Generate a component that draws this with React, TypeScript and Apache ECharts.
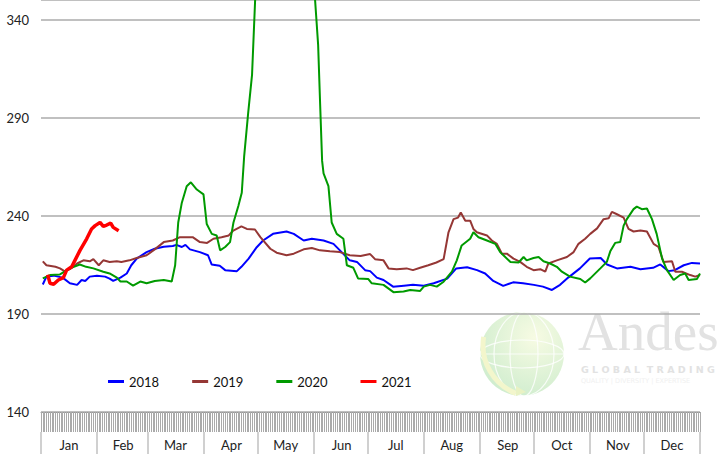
import React, { useEffect, useRef } from "react";
import * as echarts from "echarts";

const monthNames = ["Jan", "Feb", "Mar", "Apr", "May", "Jun", "Jul", "Aug", "Sep", "Oct", "Nov", "Dec"];
const monthStarts = [0, 31, 59, 90, 120, 151, 181, 212, 243, 273, 304, 334];
const monthMids = [15, 45, 74, 105, 135, 166, 196, 227, 258, 288, 319, 349];
const dayCount = 365;
const yTicks = [140, 190, 240, 290, 340];

const s2018: number[][] = [[1,205],[3,209],[7,209.5],[12,208.5],[16,205.6],[20,204.8],[22.5,207.3],[24.5,206.8],[27,209],[31,209.5],[35.5,209],[38,208],[40,206.8],[44,208.5],[47.5,210.6],[50,214.8],[53,218.2],[58.5,221.5],[63,223.2],[68,224.2],[73,224.6],[75,225.2],[78,224.1],[80,225.2],[82.5,222.9],[88,221.5],[92.5,219.9],[94.5,215.2],[99,214.5],[102,212.3],[108.5,211.8],[111,214],[115,218.2],[119.5,224],[123,227.4],[128.5,230.8],[136,232],[140,230.8],[145.5,227.4],[150,228.3],[156.5,227.4],[162,225.7],[166.5,221.5],[171,217.3],[175,216.5],[179.5,212.3],[182.3,211.8],[186,208.5],[189.7,207.3],[195,203.9],[201,204.4],[206,204.8],[212,204.4],[217.5,205.6],[225,208],[230,213.2],[236,213.8],[241.5,212.3],[246,210.6],[250.5,206.8],[256,204.3],[261.5,206.1],[267,205.6],[273,204.8],[278,203.9],[283,202.2],[287.5,204.8],[292,208.5],[298.5,213.2],[304,218.2],[310,218.5],[313.5,215.2],[319,213.2],[326.5,214],[332,212.8],[339,213.5],[343,215.2],[347.5,211.8],[351,212.3],[356,214.8],[360.5,216],[365,215.7]];

const s2019: number[][] = [[1,216.8],[3,214.8],[8,214],[10.5,213.2],[13,211.8],[16,212.8],[20,215.7],[23.5,217.3],[27,216.8],[29,217.9],[32,214.8],[34.5,217.3],[38,216.5],[42,216.8],[44.5,216.5],[49,217.3],[53,218.5],[58.5,219.9],[63,222.9],[68,226.6],[73,227.4],[77,229.1],[84,229.1],[88,226.6],[92,226.2],[95.5,228.3],[100,229.1],[104,230],[106.5,232.5],[111,234.6],[114,233.3],[118.5,233],[121.5,229.1],[127,223.2],[130.5,221.2],[136,219.9],[140,220.7],[145.5,222.9],[150,223.6],[154.5,222.4],[160,221.9],[165.5,221.5],[171,219.9],[177,219.5],[182.3,220.5],[185,217.9],[189.7,217.3],[192.5,213.2],[197,212.8],[202.5,213.2],[206,212.3],[210,213.5],[214.5,214.8],[219,216.2],[223,217.9],[225.7,231.6],[228.5,238.3],[231,239.1],[232.5,241.7],[235,237.5],[237.7,237.5],[239.5,233.3],[241.4,231.6],[247,230],[249.7,227.4],[252.5,225.7],[255.3,220.7],[258,220.7],[261.7,218.2],[265.4,216.5],[269,214],[272.8,212.3],[276.5,212.8],[279.3,211.5],[281,215.7],[285.7,217.3],[291.3,219],[295,221.5],[297.7,225.7],[301.4,228.3],[304.2,230.8],[308,233.6],[311.6,238.3],[314.4,238.7],[316.2,242],[319,240.8],[322.7,239.1],[325.4,233.3],[328.2,232],[332,232.5],[335.6,232],[339.3,225.7],[342,224.1],[344.8,216.5],[349.5,216.8],[351.3,211.5],[355,211.5],[359.6,209.8],[362.4,209],[365,209.8]];

const s2020: number[][] = [[1,208.1],[5,209.8],[10.5,210.1],[16,213.2],[21.5,215.2],[25,214],[29,213.2],[34.5,211.5],[38,210.6],[42,208.5],[44,206.5],[47.5,206.5],[51,204.4],[55,206.5],[58.5,205.6],[63,206.8],[68,207.3],[72.4,206.5],[74.3,214.8],[76,236.6],[78,246.7],[80.7,255.1],[83,257.1],[86.3,253.4],[90,250.9],[91.8,235.8],[94.6,230.8],[97.3,230],[99.2,222.4],[102,224.1],[104.7,226.6],[106.6,236.6],[109.3,245],[111.2,251.7],[112.5,270],[114.7,292],[116.9,312],[118.6,350],[120.5,372],[125,380],[132,385],[140,382],[147,378],[150.7,365],[152.4,342],[153.5,327],[154.6,297],[155.7,268],[156.5,261.6],[159.2,255.1],[161,236.6],[163.8,230.8],[167.5,228.3],[169.4,214.8],[173,213.5],[175.6,208.1],[181.2,207.8],[183.2,205.6],[189.7,204.8],[195.2,201.1],[200.8,201.4],[204.5,202.2],[210,201.7],[212,203.9],[215.5,204.8],[219.2,203.9],[223,206.4],[227.6,211.5],[230.3,217.3],[233,224.9],[237.7,228.3],[239.5,231.6],[242.3,229.1],[247,227.4],[251.6,225.7],[254.3,221.5],[260,216.5],[264.5,216.2],[267.3,219],[269,217.3],[272.8,218.5],[275.6,219],[278.3,216.8],[282,215.7],[285.7,214],[288.5,211.5],[293,209],[298.7,207.8],[301.4,206],[304.2,208.1],[309.8,213.2],[313.4,216.5],[315.3,221.9],[318,226.2],[320.8,226.6],[322.7,235],[324.5,238.3],[328.2,243.4],[330,244.7],[332.8,243.4],[335.6,243.7],[338.4,238.3],[341,230.8],[344,218.2],[346.7,212.3],[350.4,207.3],[354,209.8],[356.8,210.6],[358.7,207.3],[363.3,207.8],[365,210.6]];

const s2021: number[][] = [[3.7,210],[5,205.6],[7,205.1],[9.6,207.3],[12.4,208.5],[14.2,212.3],[17,214],[18.8,217.3],[21.6,222.4],[25.3,228.3],[28,233.3],[30,235],[32.7,236.6],[34.5,234.6],[36.4,235.3],[38.6,236.3],[40,234.1],[43,232.4]];

const seriesNames = ["2018", "2019", "2020", "2021"];
const seriesColors = ["#0000ff", "#953735", "#009a00", "#ff0000"];
const seriesWidths = [2, 2, 2, 3.5];
const seriesData = [s2018, s2019, s2020, s2021];

const days = Array.from({ length: dayCount }, (_, i) => String(i));

export default function App() {
  const ref = useRef<HTMLDivElement>(null);
  useEffect(() => {
    if (!ref.current) return;
    const chart = echarts.init(ref.current, undefined, { renderer: "svg" });
    const font = "Lato, 'Open Sans', sans-serif";
    chart.setOption({
      animation: false,
      backgroundColor: "#ffffff",
      grid: { left: 41, right: 18, top: -5, bottom: 42, containLabel: false },
      legend: {
        data: seriesNames,
        left: 108,
        top: 375,
        itemWidth: 16,
        itemHeight: 3,
        itemGap: 33,
        icon: "rect",
        padding: 0,
        textStyle: { fontSize: 13, color: "#111", fontFamily: font },
      },
      xAxis: [
        { type: "value", min: 0, max: dayCount, show: false },
        {
          type: "category",
          data: days,
          position: "bottom",
          boundaryGap: true,
          axisLine: { show: true, lineStyle: { color: "#999", width: 1 } },
          axisTick: { show: true, interval: 0, length: 20, lineStyle: { color: "#aaa", width: 1 } },
          axisLabel: { show: false },
          splitLine: { show: false },
        },
        {
          type: "category",
          data: days,
          position: "bottom",
          offset: 20,
          boundaryGap: true,
          axisLine: { show: false },
          axisTick: {
            show: true,
            length: 22,
            interval: (i: number) => monthStarts.includes(i),
            lineStyle: { color: "#c0c0c0", width: 1.5 },
          },
          axisLabel: {
            show: true,
            interval: (i: number) => monthMids.includes(i),
            formatter: (_v: string, i: number) => monthNames[monthMids.indexOf(i)] ?? "",
            fontSize: 13,
            color: "#222",
            margin: 6,
            fontFamily: font,
          },
          splitLine: { show: false },
        },
      ],
      yAxis: {
        type: "value",
        min: yTicks[0],
        max: 350,
        interval: 50,
        axisLine: { show: false },
        axisTick: { show: false },
        axisLabel: {
          fontSize: 13,
          color: "#222",
          margin: 12,
          fontFamily: font,
          formatter: (v: number) => (yTicks.includes(v) ? String(v) : ""),
        },
        splitLine: { show: true, lineStyle: { color: "#ababab", width: 1.5 } },
      },
      graphic: [
        {
          type: "group",
          silent: true,
          z: 1,
          children: [
            {
              type: "circle",
              shape: { cx: 522, cy: 354, r: 42 },
              style: {
                fill: new echarts.graphic.RadialGradient(0.65, 0.3, 0.8, [
                  { offset: 0, color: "#f7fbe3" },
                  { offset: 1, color: "#cdeccd" },
                ]),
              },
            },
            { type: "ellipse", shape: { cx: 524, cy: 354, rx: 14, ry: 42 }, style: { fill: "none", stroke: "#ffffff", lineWidth: 1.2, opacity: 0.8 } },
            { type: "ellipse", shape: { cx: 524, cy: 354, rx: 30, ry: 42 }, style: { fill: "none", stroke: "#ffffff", lineWidth: 1.2, opacity: 0.8 } },
            { type: "ellipse", shape: { cx: 522, cy: 354, rx: 42, ry: 14 }, style: { fill: "none", stroke: "#ffffff", lineWidth: 1.2, opacity: 0.8 } },
            { type: "line", shape: { x1: 480, y1: 354, x2: 564, y2: 354 }, style: { stroke: "#ffffff", lineWidth: 1.2, opacity: 0.8 } },
            {
              type: "arc",
              shape: { cx: 535, cy: 345, r: 52, startAngle: Math.PI * 0.62, endAngle: Math.PI * 1.05 },
              style: { stroke: "#f3f6cc", lineWidth: 5, fill: "none" },
            },
            { type: "polygon", shape: { points: [[516, 386], [526, 392], [516, 396]] }, style: { fill: "#e9f2c4" } },
            {
              type: "text",
              x: 578,
              y: 359,
              style: { text: "Andes", font: "55px 'Liberation Serif', serif", fill: "#e2e2e2", textVerticalAlign: "bottom" },
            },
            {
              type: "text",
              x: 581,
              y: 369,
              style: { text: "G L O B A L  T R A D I N G", font: "bold 9.5px 'DejaVu Sans', sans-serif", fill: "#e2e2e2", textVerticalAlign: "middle" },
            },
            {
              type: "text",
              x: 581,
              y: 381,
              style: { text: "QUALITY | DIVERSITY | EXPERTISE", font: "6.5px 'DejaVu Sans', sans-serif", fill: "#f0f0f0", textVerticalAlign: "middle" },
            },
          ],
        },
      ],
      series: seriesNames.map((n, k) => ({
        name: n,
        type: "line",
        xAxisIndex: 0,
        data: seriesData[k],
        showSymbol: false,
        symbol: "none",
        z: 3 + k,
        lineStyle: { color: seriesColors[k], width: seriesWidths[k] },
        itemStyle: { color: seriesColors[k] },
      })),
    });
    return () => chart.dispose();
  }, []);
  return <div ref={ref} style={{ position: "fixed", left: 0, top: 0, width: 718, height: 454 }} />;
}
